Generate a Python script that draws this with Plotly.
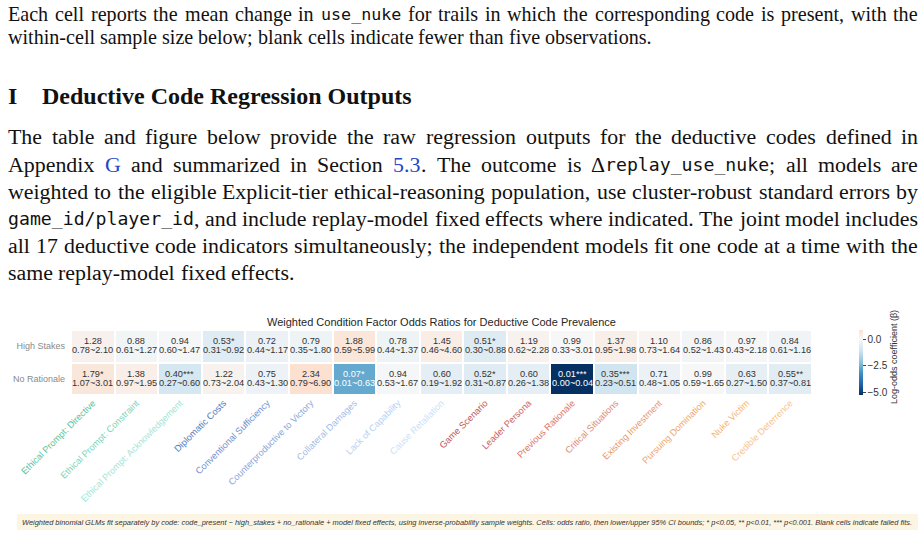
import re
import plotly.graph_objects as go

W, H = 922, 536

# ---------------- data ----------------
codes = [
    "Ethical Prompt: Directive", "Ethical Prompt: Constraint", "Ethical Prompt: Acknowledgement",
    "Diplomatic Costs", "Conventional Sufficiency", "Counterproductive to Victory",
    "Collateral Damages", "Lack of Capability", "Cause Retaliation",
    "Game Scenario", "Leader Persona", "Previous Rationale", "Critical Situations",
    "Existing Investment", "Pursuing Domination", "Nuke Victim", "Credible Deterrence",
]
code_colors = [
    "#52c5a5", "#7ad5bd", "#a3e5d4",
    "#5779c0", "#6e91d1", "#88a7dd", "#a1bde9", "#b8cff0", "#cddff6",
    "#c4545a", "#cc625f", "#d7766a", "#e2896d", "#ea9871", "#f0a673", "#f5b37a", "#f8c48f",
]
row_labels = ["High Stakes", "No Rationale"]

or_high = ["1.28", "0.88", "0.94", "0.53*", "0.72", "0.79", "1.88", "0.78", "1.45",
           "0.51*", "1.19", "0.99", "1.37", "1.10", "0.86", "0.97", "0.84"]
ci_high = ["0.78~2.10", "0.61~1.27", "0.60~1.47", "0.31~0.92", "0.44~1.17", "0.35~1.80",
           "0.59~5.99", "0.44~1.37", "0.46~4.60", "0.30~0.88", "0.62~2.28", "0.33~3.01",
           "0.95~1.98", "0.73~1.64", "0.52~1.43", "0.43~2.18", "0.61~1.16"]
or_norat = ["1.79*", "1.38", "0.40***", "1.22", "0.75", "2.34", "0.07*", "0.94", "0.60",
            "0.52*", "0.60", "0.01***", "0.35***", "0.71", "0.99", "0.63", "0.55**"]
ci_norat = ["1.07~3.01", "0.97~1.95", "0.27~0.60", "0.73~2.04", "0.43~1.30", "0.79~6.90",
            "0.01~0.63", "0.53~1.67", "0.19~1.92", "0.31~0.87", "0.26~1.38", "0.00~0.04",
            "0.23~0.51", "0.48~1.05", "0.59~1.65", "0.27~1.50", "0.37~0.81"]
# log-odds coefficients (beta) used for colour
beta_high = [0.25, -0.13, -0.06, -0.63, -0.33, -0.24, 0.63, -0.25, 0.37,
             -0.67, 0.17, -0.01, 0.31, 0.10, -0.15, -0.03, -0.17]
beta_norat = [0.58, 0.32, -0.92, 0.20, -0.29, 0.85, -2.66, -0.06, -0.51,
              -0.65, -0.51, -5.20, -1.05, -0.34, -0.01, -0.46, -0.60]

caption_lines = [
    "Each cell reports the mean change in {m:use_nuke} for trails in which the corresponding code is present, with the",
    "within-cell sample size below; blank cells indicate fewer than five observations.",
]
heading_num = "I"
heading_text = "Deductive Code Regression Outputs"
para_lines = [
    "The table and figure below provide the raw regression outputs for the deductive codes defined in",
    "Appendix {b:G} and summarized in Section {b:5.3}. The outcome is \u0394{m:replay_use_nuke}; all models are",
    "weighted to the eligible Explicit-tier ethical-reasoning population, use cluster-robust standard errors by",
    "{m:game_id/player_id}, and include replay-model fixed effects where indicated. The joint model includes",
    "all 17 deductive code indicators simultaneously; the independent models fit one code at a time with the",
    "same replay-model fixed effects.",
]
chart_title = "Weighted Condition Factor Odds Ratios for Deductive Code Prevalence"
cbar_title = "Log-odds coefficient (\u03b2)"
footnote = ("Weighted binomial GLMs fit separately by code: code_present ~ high_stakes + no_rationale + "
            "model fixed effects, using inverse-probability sample weights. Cells: odds ratio, then "
            "lower/upper 95% CI bounds; * p&lt;0.05, ** p&lt;0.01, *** p&lt;0.001. Blank cells indicate failed fits.")

# ---------------- helpers ----------------
def px(x):
    return x / W

def py(y):
    return 1 - y / H

TIMES = {' ': 250, '!': 333, ',': 250, '-': 333, '.': 250, '/': 278, ':': 278, ';': 278,
         '(': 333, ')': 333, '_': 500, '\u0394': 612,
         'A': 722, 'B': 667, 'C': 667, 'D': 722, 'E': 611, 'F': 556, 'G': 722, 'H': 722, 'I': 333,
         'J': 389, 'K': 722, 'L': 611, 'M': 889, 'N': 722, 'O': 722, 'P': 556, 'Q': 722, 'R': 667,
         'S': 556, 'T': 611, 'U': 722, 'V': 722, 'W': 944, 'X': 722, 'Y': 722, 'Z': 611,
         'a': 444, 'b': 500, 'c': 444, 'd': 500, 'e': 444, 'f': 333, 'g': 500, 'h': 500, 'i': 278,
         'j': 278, 'k': 500, 'l': 278, 'm': 778, 'n': 500, 'o': 500, 'p': 500, 'q': 500, 'r': 333,
         's': 389, 't': 278, 'u': 500, 'v': 500, 'w': 722, 'x': 500, 'y': 500, 'z': 444}

def serif_w(s, size):
    return sum(TIMES.get(c, 500) for c in s) / 1000 * size

def parse_word(w):
    segs = []
    pos = 0
    for mt in re.finditer(r"\{([mb]):([^}]*)\}", w):
        if mt.start() > pos:
            segs.append((w[pos:mt.start()], 'r'))
        segs.append((mt.group(2), mt.group(1)))
        pos = mt.end()
    if pos < len(w):
        segs.append((w[pos:], 'r'))
    return segs

annotations = []

def seg_width(t, k, size, msize):
    if k == 'm':
        return len(t) * 0.602 * msize
    return serif_w(t, size)

def place_line(line, y, size, x0, x1, justify):
    msize = 0.5 * size / 0.602
    words = [parse_word(w) for w in line.split(' ')]
    widths = [sum(seg_width(t, k, size, msize) for t, k in segs) for segs in words]
    if justify and len(words) > 1:
        gap = (x1 - x0 - sum(widths)) / (len(words) - 1)
    else:
        gap = 0.25 * size
    x = x0
    for segs, wd in zip(words, widths):
        for t, k in segs:
            if k == 'm':
                fnt = dict(family="DejaVu Sans Mono", size=msize, color="#111111")
            elif k == 'b':
                fnt = dict(family="Liberation Serif", size=size, color="#2346c8")
            else:
                fnt = dict(family="Liberation Serif", size=size, color="#111111")
            annotations.append(dict(text=t, x=px(x), y=py(y), xref="paper", yref="paper",
                                    xanchor="left", yanchor="middle", showarrow=False,
                                    borderpad=0, font=fnt))
            x += seg_width(t, k, size, msize)
        x += gap

# ---------------- page text ----------------
cap_y = [14, 37]
for i, ln in enumerate(caption_lines):
    place_line(ln, cap_y[i], 20.1, 7, 917, i < len(caption_lines) - 1)

annotations.append(dict(text="<b>%s</b>" % heading_num, x=px(7), y=py(96), xref="paper", yref="paper",
                        xanchor="left", yanchor="middle", showarrow=False, borderpad=0,
                        font=dict(family="Liberation Serif", size=24, color="#111111")))
annotations.append(dict(text="<b>%s</b>" % heading_text, x=px(41), y=py(96), xref="paper", yref="paper",
                        xanchor="left", yanchor="middle", showarrow=False, borderpad=0,
                        font=dict(family="Liberation Serif", size=24, color="#111111")))

para_y = [136, 164, 191, 219, 246, 272]
for i, ln in enumerate(para_lines):
    place_line(ln, para_y[i], 21.9, 7, 917, i < len(para_lines) - 1)

# ---------------- heatmap ----------------
zmin, zmax = -5.2, 0.85
rdbu_r = ["#053061", "#2166ac", "#4393c3", "#92c5de", "#d1e5f0", "#f7f7f7",
          "#fddbc7", "#f4a582", "#d6604d", "#b2182b", "#67001f"]
vr = max(abs(zmin), abs(zmax))

def hex2rgb(h):
    return tuple(int(h[i:i + 2], 16) for i in (1, 3, 5))

colorscale = []
vals = [-vr + i * (2 * vr / 10) for i in range(11)]
for i, v in enumerate(vals):
    if v < zmin - 1e-9:
        continue
    if v <= zmax + 1e-9:
        colorscale.append([(v - zmin) / (zmax - zmin), rdbu_r[i]])
    else:
        v0 = vals[i - 1]
        f = (zmax - v0) / (v - v0)
        c0, c1 = hex2rgb(rdbu_r[i - 1]), hex2rgb(rdbu_r[i])
        c = tuple(round(c0[j] + f * (c1[j] - c0[j])) for j in range(3))
        colorscale.append([1.0, "rgb(%d,%d,%d)" % c])
        break

xs = list(range(len(codes)))
fig = go.Figure()
fig.add_trace(go.Heatmap(
    z=[beta_high, beta_norat], x=xs, y=row_labels,
    colorscale=colorscale, zmin=zmin, zmax=zmax, xgap=2, ygap=2,
    hoverinfo="skip",
    colorbar=dict(thickness=4, len=65 / H, lenmode="fraction", y=py(362.5), yanchor="middle",
                  x=px(859), xanchor="left", xpad=0, ypad=0, outlinewidth=0,
                  ticks="outside", ticklen=3, tickwidth=1, tickcolor="#444",
                  tickvals=[0, -2.5, -5.0], ticktext=["0.0", "\u22122.5", "\u22125.0"],
                  tickfont=dict(family="Liberation Sans", size=10, color="#333333")),
))

cell_font = "Liberation Sans"
for r, (ors, cis, betas) in enumerate([(or_high, ci_high, beta_high), (or_norat, ci_norat, beta_norat)]):
    for i in xs:
        col = "#ffffff" if betas[i] < -2 else "#333333"
        annotations.append(dict(text=ors[i], x=i, y=row_labels[r], xref="x", yref="y",
                                showarrow=False, yshift=5, borderpad=0,
                                font=dict(family=cell_font, size=9.2, color=col)))
        annotations.append(dict(text=cis[i], x=i, y=row_labels[r], xref="x", yref="y",
                                showarrow=False, yshift=-4, borderpad=0,
                                font=dict(family=cell_font, size=9.2, color=col)))

annotations.append(dict(text=chart_title, x=px(441), y=py(322), xref="paper", yref="paper",
                        showarrow=False, xanchor="center", yanchor="middle",
                        font=dict(family="Liberation Sans", size=11, color="#262626")))
annotations.append(dict(text=cbar_title, x=px(894), y=py(357), xref="paper", yref="paper",
                        showarrow=False, xanchor="center", yanchor="middle", textangle=-90,
                        font=dict(family="Liberation Sans", size=9, color="#333333")))
annotations.append(dict(text="<i>%s</i>" % footnote, x=px(467), y=py(522), xref="paper", yref="paper",
                        showarrow=False, xanchor="center", yanchor="middle",
                        font=dict(family="Liberation Sans", size=7.45, color="#333333")))

ticktext = ['<span style="color:%s">%s</span>' % (c, n) for n, c in zip(codes, code_colors)]

fig.update_layout(
    width=W, height=H, autosize=False,
    margin=dict(l=0, r=0, t=0, b=0, autoexpand=False),
    paper_bgcolor="white", plot_bgcolor="white",
    showlegend=False,
    annotations=annotations,
    shapes=[dict(type="rect", xref="paper", yref="paper", x0=px(17), x1=px(918),
                 y0=py(530), y1=py(514), fillcolor="#fcf5e4", line=dict(width=0), layer="below")],
    xaxis=dict(domain=[px(71), px(812)], range=[-0.5, len(codes) - 0.5], tickmode="array",
               tickvals=xs, ticktext=ticktext, tickangle=-45, ticks="", showgrid=False,
               automargin=False,
               zeroline=False, showline=False, tickfont=dict(family="Liberation Sans", size=9.2)),
    yaxis=dict(domain=[py(395), py(330)], autorange="reversed", categoryorder="array",
               categoryarray=row_labels, ticks="", showgrid=False, zeroline=False, showline=False,
               ticklabelstandoff=5, automargin=False,
               tickfont=dict(family="Liberation Sans", size=9, color="#8a8a8a")),
)

fig.write_html("out.html", config={"displayModeBar": False})
